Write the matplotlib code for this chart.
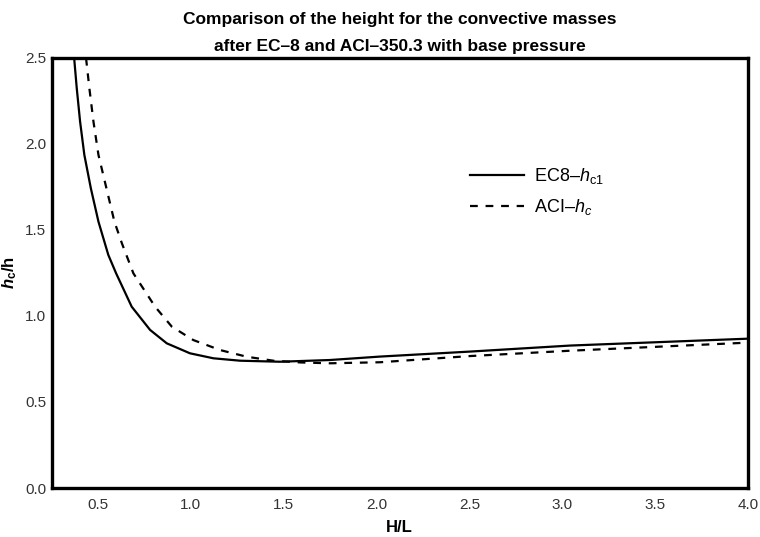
import numpy as np
import matplotlib
matplotlib.use("Agg")
import matplotlib.pyplot as plt

plt.rcParams['font.family'] = ['Liberation Sans', 'DejaVu Sans']
plt.rcParams['mathtext.fontset'] = 'custom'
plt.rcParams['mathtext.rm'] = 'Liberation Sans'
plt.rcParams['mathtext.it'] = 'Liberation Sans:italic'
plt.rcParams['mathtext.bf'] = 'Liberation Sans:bold'
plt.rcParams['mathtext.bfit'] = 'Liberation Sans:bold:italic'

# values
ec8_x = [0.371, 0.385, 0.403, 0.426, 0.461, 0.502, 0.555, 0.597, 0.681,
         0.780, 0.870, 0.995, 1.121, 1.265, 1.480, 1.749, 2.019, 2.503,
         3.042, 4.0]
ec8_y = [2.5, 2.324, 2.130, 1.936, 1.742, 1.548, 1.355, 1.248, 1.054,
         0.919, 0.841, 0.783, 0.754, 0.740, 0.734, 0.744, 0.764, 0.793,
         0.828, 0.868]

aci_x = [0.435, 0.453, 0.475, 0.502, 0.545, 0.588, 0.628, 0.690, 0.807,
         0.897, 1.013, 1.157, 1.301, 1.444, 1.588, 1.749, 2.019, 2.503,
         3.042, 4.0]
aci_y = [2.5, 2.324, 2.130, 1.936, 1.742, 1.548, 1.423, 1.248, 1.054,
         0.938, 0.860, 0.802, 0.763, 0.740, 0.730, 0.725, 0.731, 0.767,
         0.798, 0.845]

xticks = [0.5, 1.0, 1.5, 2.0, 2.5, 3.0, 3.5, 4.0]
yticks = [0.0, 0.5, 1.0, 1.5, 2.0, 2.5]

fig = plt.figure(figsize=(7.6, 5.37), dpi=100)
ax = fig.add_axes([0.068, 0.0912, 0.916, 0.801])

ax.plot(ec8_x, ec8_y, color='black', lw=1.6, label='EC8\u2013$h_{\\rm c1}$')
ax.plot(aci_x, aci_y, color='black', lw=1.6, dashes=(3.5, 3.5),
        label='ACI\u2013$h_c$')

ax.set_xlim(0.25, 4.0)
ax.set_ylim(0.0, 2.5)
ax.set_xticks(xticks)
ax.set_yticks(yticks)
ax.tick_params(length=0, labelsize=11, labelcolor='#333333')
ax.tick_params(axis='y', pad=4)
ax.tick_params(axis='x', pad=7)
for s in ax.spines.values():
    s.set_linewidth(2.4)

ax.set_xlabel('H/L', fontsize=12, fontweight='bold', labelpad=6)
ax.set_ylabel('$\\mathbfit{h}_{\\mathbf{c}}$/h', fontsize=12, fontweight='bold', labelpad=4)
ax.set_title('Comparison of the height for the convective masses\n'
             'after EC\u20138 and ACI\u2013350.3 with base pressure',
             fontsize=12.5, fontweight='bold', linespacing=2.0, pad=5)

ax.legend(loc='upper left', bbox_to_anchor=(0.578, 0.786), frameon=False,
          fontsize=13, handlelength=3.0, handletextpad=0.5, labelspacing=0.6)

plt.savefig('out.png', dpi=100)
